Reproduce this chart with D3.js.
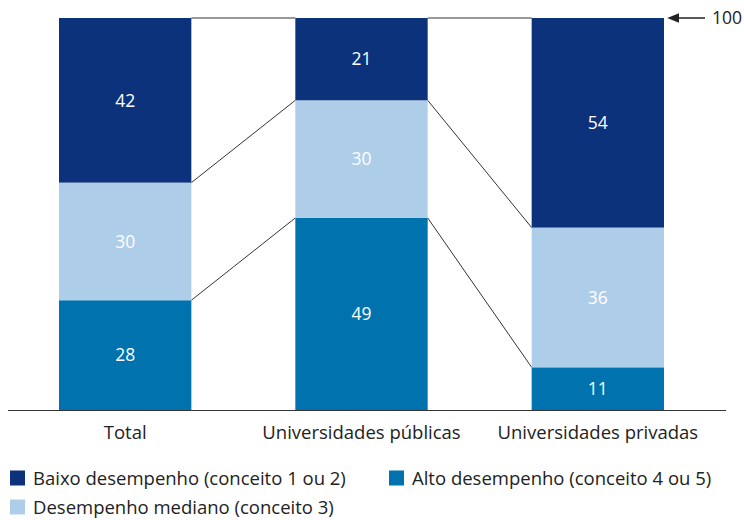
<!DOCTYPE html>
<meta charset="utf-8">
<style>
body { margin: 0; background: #fff; }
text { font-family: "Open Sans", "Noto Sans", sans-serif; fill: #222; }
.seg-label { fill: #fff; font-size: 17.5px; }
.cat, .legend text { font-size: 18.5px; }
.links line { stroke: #333; stroke-width: 1px; }
</style>
<svg width="744" height="520"></svg>
<script src="https://d3js.org/d3.v7.min.js"></script>
<script>

var categories = ["Total", "Universidades públicas", "Universidades privadas"];
var alto = [28, 49, 11];
var mediano = [30, 30, 36];
var baixo = [42, 21, 54];
var seriesNames = ["Baixo desempenho (conceito 1 ou 2)", "Alto desempenho (conceito 4 ou 5)", "Desempenho mediano (conceito 3)"];

var colors = { alto: "#0072ae", mediano: "#aecde9", baixo: "#0b327a" };

var svg = d3.select("svg");

var x = d3.scaleBand()
    .domain(categories)
    .range([59, 664])
    .paddingInner(0.44)
    .paddingOuter(0);

// bars are shown as shares of 100
var y = d3.scaleLinear()
    .domain([0, 1])
    .range([410, 18]);

var rows = categories.map(function(c, i) {
  return { cat: c, alto: alto[i], mediano: mediano[i], baixo: baixo[i] };
});

var stack = d3.stack().keys(["alto", "mediano", "baixo"]).offset(d3.stackOffsetExpand);
var layers = stack(rows);

// gray top line (100)
var topLine = svg.append("g");
for (var i = 0; i < categories.length - 1; i++) {
  topLine.append("line")
      .attr("x1", x(categories[i]) + x.bandwidth())
      .attr("x2", x(categories[i + 1]))
      .attr("y1", y(1)).attr("y2", y(1))
      .attr("stroke", "#777").attr("stroke-width", 1.5);
}

// connectors
var links = svg.append("g").attr("class", "links");
layers.slice(0, 2).forEach(function(layer) {
  for (var i = 0; i < layer.length - 1; i++) {
    links.append("line")
        .attr("x1", x(categories[i]) + x.bandwidth())
        .attr("y1", y(layer[i][1]))
        .attr("x2", x(categories[i + 1]))
        .attr("y2", y(layer[i + 1][1]));
  }
});

var g = svg.append("g");
layers.forEach(function(layer) {
  g.selectAll(null)
    .data(layer)
    .enter().append("rect")
      .attr("x", function(d) { return x(d.data.cat); })
      .attr("y", function(d) { return y(d[1]); })
      .attr("width", x.bandwidth())
      .attr("height", function(d) { return y(d[0]) - y(d[1]); })
      .attr("fill", colors[layer.key]);

  g.selectAll(null)
    .data(layer)
    .enter().append("text")
      .attr("class", "seg-label")
      .attr("x", function(d) { return x(d.data.cat) + x.bandwidth() / 2; })
      .attr("y", function(d) { return (y(d[0]) + y(d[1])) / 2; })
      .attr("dy", "0.36em")
      .attr("text-anchor", "middle")
      .text(function(d) { return d.data[layer.key]; });
});

// baseline
svg.append("line")
    .attr("x1", 8).attr("x2", 726)
    .attr("y1", y(0) + 0.5).attr("y2", y(0) + 0.5)
    .attr("stroke", "#333").attr("stroke-width", 1.2);

// category labels
svg.append("g").selectAll("text")
  .data(categories)
  .enter().append("text")
    .attr("class", "cat")
    .attr("x", function(d) { return x(d) + x.bandwidth() / 2; })
    .attr("y", 439)
    .attr("text-anchor", "middle")
    .text(function(d) { return d; });

// 100 arrow
svg.append("defs").append("marker")
    .attr("id", "arr")
    .attr("viewBox", "0 0 10 10")
    .attr("refX", 1).attr("refY", 5)
    .attr("markerWidth", 8).attr("markerHeight", 8)
    .attr("orient", "auto")
  .append("path").attr("d", "M0,1 L10,5 L0,9 Z").attr("fill", "#222");
svg.append("line")
    .attr("x1", 705).attr("x2", 678)
    .attr("y1", y(1)).attr("y2", y(1))
    .attr("stroke", "#222").attr("stroke-width", 1.5)
    .attr("marker-end", "url(#arr)");
svg.append("text")
    .attr("x", 712).attr("y", y(1))
    .attr("dy", "0.36em")
    .style("font-size", "17.5px")
    .text("100");

// legend
var legendItems = [
  { name: seriesNames[0], key: "baixo", x: 10, y: 478 },
  { name: seriesNames[1], key: "alto", x: 389, y: 478 },
  { name: seriesNames[2], key: "mediano", x: 10, y: 507 }
];
var lg = svg.append("g").attr("class", "legend").selectAll("g")
  .data(legendItems)
  .enter().append("g")
    .attr("transform", function(d) { return "translate(" + d.x + "," + d.y + ")"; });
lg.append("rect")
    .attr("x", 0).attr("y", -7.5)
    .attr("width", 15).attr("height", 15)
    .attr("fill", function(d) { return colors[d.key]; });
lg.append("text")
    .attr("x", 23)
    .attr("dy", "0.36em")
    .text(function(d) { return d.name; });

</script>
